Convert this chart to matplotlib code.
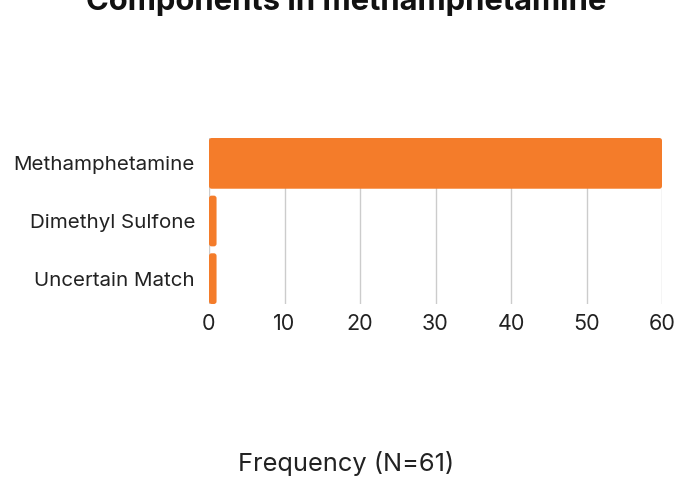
import matplotlib
matplotlib.use("Agg")
import matplotlib.pyplot as plt
from matplotlib.patches import FancyBboxPatch, BoxStyle

categories = ["Methamphetamine", "Dimethyl Sulfone", "Uncertain Match"]
values = [60, 1, 1]
xticks = [0, 10, 20, 30, 40, 50, 60]
title = "Components in methamphetamine"
xlabel = "Frequency (N=61)"

plt.rcParams['font.family'] = ['Inter', 'DejaVu Sans']

fig = plt.figure(figsize=(6.92, 4.79), dpi=100)
ax = fig.add_axes([209/692, 1-304/479, (662-209)/692, (304-138)/479])

ypos = list(range(len(categories)))
bars = ax.barh(ypos, values, height=0.88, color="#F47C2A", zorder=3)
for b in bars:
    b.set_visible(False)
    ax.add_patch(FancyBboxPatch((b.get_x(), b.get_y()), b.get_width(), b.get_height(),
                                boxstyle=BoxStyle.Round(pad=0, rounding_size=0.35),
                                mutation_aspect=0.131, facecolor="#F47C2A",
                                edgecolor="none", zorder=3))
ax.set_ylim(len(categories)-1+0.44, -0.44)
ax.set_xlim(0, 60)
ax.set_yticks(ypos)
ax.set_yticklabels(categories, fontsize=14.8, color="#222222")
ax.set_xticks(xticks)
ax.set_xticklabels([str(t) for t in xticks], fontsize=15.5, color="#222222")
ax.tick_params(length=0)
ax.tick_params(axis='y', pad=10)
ax.tick_params(axis='x', pad=7)
ax.grid(axis='x', color="#cccccc", linewidth=1, zorder=0)
for s in ax.spines.values():
    s.set_visible(False)

fig.text(0.5, 1-10/479, title, ha='center', va='baseline', fontsize=22.3, fontweight='bold', color="#111111")
fig.text(0.5, 1-471/479, xlabel, ha='center', va='baseline', fontsize=18.3, color="#222222")

fig.savefig("out.png", dpi=100)
